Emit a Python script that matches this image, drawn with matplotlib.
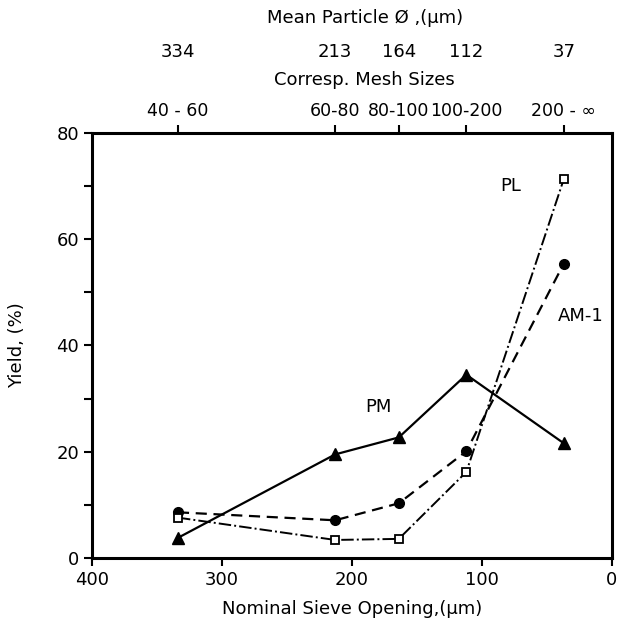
import matplotlib
matplotlib.use("Agg")
import matplotlib.pyplot as plt
import matplotlib.transforms as mtransforms

plt.rcParams['font.family'] = ['DejaVu Sans']

mean_particle = [334, 213, 164, 112, 37]
mesh_labels = ["40 - 60", "60-80", "80-100", "100-200", "200 - ∞"]
pm = [3.8, 19.5, 22.7, 34.5, 21.6]
am1 = [8.6, 7.1, 10.3, 20.1, 55.4]
pl = [7.6, 3.4, 3.6, 16.2, 71.3]

fig = plt.figure(figsize=(6.36, 6.26), dpi=100)
ax = fig.add_axes([0.145, 0.1086, 0.817, 0.679])

ax.plot(mean_particle, pm, '-', color='black', lw=1.6, marker='^', ms=8)
ax.plot(mean_particle, am1, '--', color='black', lw=1.6, marker='o', ms=7, dashes=(5, 3))
ax.plot(mean_particle, pl, '-.', color='black', lw=1.4, marker='s', ms=6,
        markerfacecolor='white', markeredgewidth=1.3)

ax.set_xlim(400, 0)
ax.set_ylim(0, 80)
ax.set_xticks([400, 300, 200, 100, 0])
ax.set_yticks(range(0, 81, 10))
ax.set_yticklabels([str(v) if v % 20 == 0 else "" for v in range(0, 81, 10)])
for s in ax.spines.values():
    s.set_linewidth(2.2)
ax.tick_params(labelsize=13, width=1.5, length=6, direction='out')

ax.set_xlabel("Nominal Sieve Opening,(μm)", fontsize=13, labelpad=8)
ax.set_ylabel("Yield, (%)", fontsize=13, labelpad=22)

top = ax.twiny()
top.set_xlim(400, 0)
top.set_xticks(mean_particle)
top.set_xticklabels(mesh_labels, fontsize=12.5)
top.tick_params(width=1.5, length=6, direction='out', pad=3)

trans = mtransforms.blended_transform_factory(ax.transData, fig.transFigure)
for xv in mean_particle:
    ax.text(xv, 1 - 52 / 626, str(xv), transform=trans, ha='center', va='center', fontsize=13)
fig.text((92 + 612) / 2 / 636 + 0.02, 1 - 80 / 626, "Corresp. Mesh Sizes", ha='center', va='center', fontsize=13)
fig.text((92 + 612) / 2 / 636 + 0.02, 1 - 18 / 626, "Mean Particle Ø ,(μm)", ha='center', va='center', fontsize=13)

ax.text(78, 70, "PL", fontsize=13, ha='center', va='center')
ax.text(24, 45.5, "AM-1", fontsize=13, ha='center', va='center')
ax.text(180, 28.5, "PM", fontsize=13, ha='center', va='center')

fig.savefig("out.png", dpi=100)
